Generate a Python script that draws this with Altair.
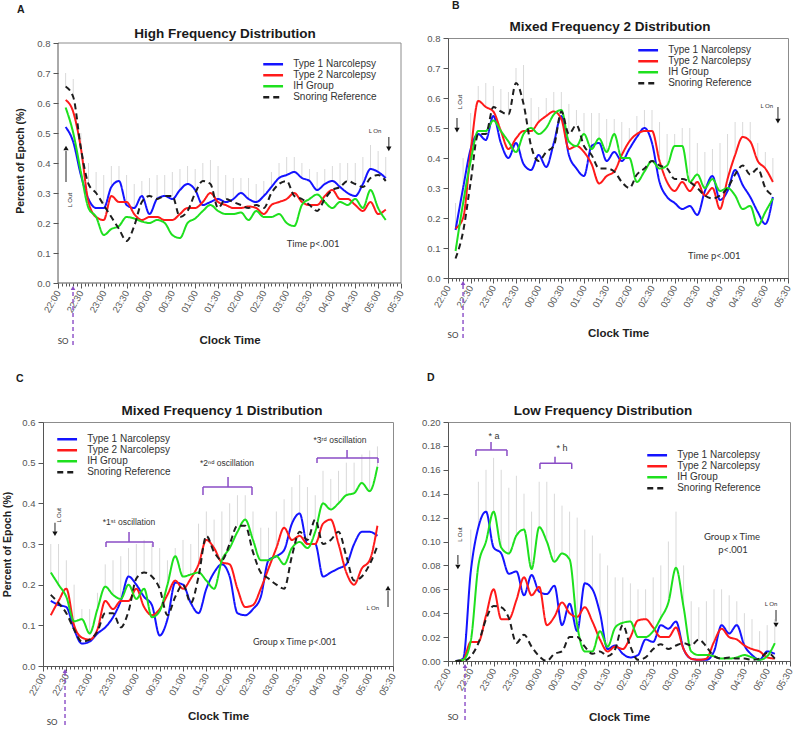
import json
import altair as alt
import pandas as pd

# ---------------- data ----------------
TIMES = [10, 20, 30, 40, 50, 60, 70, 80, 90, 100, 110, 120, 130, 140, 150,
         160, 170, 180, 190, 200, 210, 220, 230, 240, 250, 260, 270, 280, 290,
         300, 310, 320, 330, 340, 350, 360, 370, 380, 390, 400, 410, 420, 430]
TICK_LABELS = ["22:00", "22:30", "23:00", "23:30", "00:00", "00:30", "01:00",
               "01:30", "02:00", "02:30", "03:00", "03:30", "04:00", "04:30",
               "05:00", "05:30"]
SERIES = ["Type 1 Narcolepsy", "Type 2 Narcolepsy", "IH Group", "Snoring Reference"]
COLORS = ["#1414ff", "#ff1a1a", "#1ee01e", "#1e1e1e"]
DASHES = [[1, 0], [1, 0], [1, 0], [6, 4]]

Y_TICKS_AB = [0.0, 0.1, 0.2, 0.3, 0.4, 0.5, 0.6, 0.7, 0.8]
Y_TICKS_C = [0.0, 0.1, 0.2, 0.3, 0.4, 0.5, 0.6]
Y_TICKS_D = [0.0, 0.02, 0.04, 0.06, 0.08, 0.10, 0.12, 0.14, 0.16, 0.18, 0.20]
X_TICKS = list(range(0, 455, 5))

# Panel A - High Frequency
A_T1 = [0.52, 0.47, 0.36, 0.28, 0.25, 0.25, 0.32, 0.34, 0.26, 0.25,
        0.29, 0.23, 0.28, 0.29, 0.28, 0.31, 0.33, 0.31, 0.26, 0.27,
        0.28, 0.27, 0.28, 0.30, 0.28, 0.27, 0.29, 0.32, 0.35, 0.36,
        0.37, 0.35, 0.34, 0.31, 0.33, 0.34, 0.32, 0.30, 0.29, 0.33,
        0.38, 0.37, 0.35]
A_T2 = [0.61, 0.57, 0.45, 0.27, 0.22, 0.21, 0.29, 0.27, 0.27, 0.23,
        0.21, 0.22, 0.22, 0.21, 0.21, 0.23, 0.25, 0.25, 0.27, 0.30,
        0.27, 0.26, 0.25, 0.25, 0.255, 0.25, 0.23, 0.26, 0.27, 0.28,
        0.30, 0.27, 0.26, 0.26, 0.29, 0.31, 0.28, 0.28, 0.26, 0.24,
        0.27, 0.23, 0.245]
A_IH = [0.585, 0.50, 0.37, 0.25, 0.22, 0.16, 0.18, 0.19, 0.22, 0.215,
        0.205, 0.20, 0.21, 0.20, 0.16, 0.15, 0.20, 0.215, 0.24, 0.26,
        0.24, 0.23, 0.23, 0.235, 0.21, 0.24, 0.22, 0.22, 0.23, 0.20,
        0.19, 0.26, 0.28, 0.295, 0.27, 0.25, 0.27, 0.26, 0.28, 0.25,
        0.31, 0.25, 0.21]
A_SR = [0.655, 0.62, 0.45, 0.33, 0.30, 0.26, 0.22, 0.18, 0.14, 0.19,
        0.27, 0.29, 0.28, 0.29, 0.29, 0.22, 0.24, 0.30, 0.34, 0.33,
        0.25, 0.28, 0.27, 0.26, 0.25, 0.26, 0.25, 0.30, 0.33, 0.34,
        0.29, 0.28, 0.26, 0.24, 0.28, 0.31, 0.32, 0.34, 0.33, 0.32,
        0.35, 0.36, 0.34]
A_ERR = [0.70, 0.68, 0.50, 0.40, 0.37, 0.36, 0.39, 0.39, 0.36, 0.33,
         0.34, 0.35, 0.36, 0.36, 0.37, 0.38, 0.39, 0.38, 0.40, 0.41,
         0.39, 0.36, 0.35, 0.35, 0.35, 0.33, 0.34, 0.37, 0.40, 0.42,
         0.42, 0.40, 0.38, 0.37, 0.38, 0.39, 0.40, 0.40, 0.40, 0.42,
         0.46, 0.44, 0.42]

# Panel B - Mixed Frequency 2
B_T1 = [0.16, 0.30, 0.43, 0.48, 0.46, 0.54, 0.45, 0.40, 0.45, 0.38,
        0.36, 0.41, 0.37, 0.45, 0.54, 0.41, 0.365, 0.34, 0.44, 0.45,
        0.39, 0.42, 0.39, 0.43, 0.47, 0.50, 0.45, 0.32, 0.27, 0.25,
        0.23, 0.24, 0.21, 0.29, 0.34, 0.26, 0.29, 0.36, 0.31, 0.27,
        0.22, 0.18, 0.27]
B_T2 = [0.165, 0.20, 0.42, 0.59, 0.57, 0.555, 0.49, 0.43, 0.465, 0.49,
        0.49, 0.52, 0.54, 0.555, 0.53, 0.43, 0.44, 0.42, 0.38, 0.315,
        0.34, 0.355, 0.41, 0.455, 0.48, 0.49, 0.49, 0.39, 0.32, 0.29,
        0.32, 0.29, 0.32, 0.275, 0.30, 0.23, 0.33, 0.41, 0.47, 0.455,
        0.39, 0.365, 0.32]
B_IH = [0.09, 0.25, 0.39, 0.49, 0.49, 0.525, 0.49, 0.455, 0.42, 0.48,
        0.50, 0.48, 0.50, 0.545, 0.56, 0.455, 0.44, 0.48, 0.43, 0.465,
        0.42, 0.48, 0.40, 0.40, 0.32, 0.355, 0.39, 0.365, 0.375, 0.44,
        0.44, 0.32, 0.345, 0.30, 0.33, 0.29, 0.30, 0.275, 0.23, 0.24,
        0.175, 0.22, 0.265]
B_SR = [0.065, 0.155, 0.32, 0.48, 0.48, 0.57, 0.555, 0.545, 0.65, 0.58,
        0.44, 0.39, 0.42, 0.44, 0.555, 0.48, 0.51, 0.44, 0.41, 0.365,
        0.365, 0.355, 0.32, 0.30, 0.345, 0.365, 0.39, 0.375, 0.365, 0.33,
        0.33, 0.32, 0.30, 0.275, 0.265, 0.275, 0.30, 0.345, 0.375, 0.345,
        0.365, 0.30, 0.275]
B_ERR = [0.25, 0.40, 0.55, 0.64, 0.65, 0.64, 0.63, 0.62, 0.70, 0.71,
         0.60, 0.57, 0.60, 0.62, 0.62, 0.58, 0.56, 0.55, 0.55, 0.55,
         0.53, 0.53, 0.52, 0.50, 0.54, 0.56, 0.56, 0.52, 0.48, 0.48,
         0.50, 0.50, 0.45, 0.42, 0.43, 0.45, 0.48, 0.52, 0.52, 0.52,
         0.45, 0.42, 0.40]

# Panel C - Mixed Frequency 1
C_T1 = [0.16, 0.15, 0.145, 0.09, 0.055, 0.06, 0.08, 0.095, 0.12, 0.16,
        0.22, 0.20, 0.17, 0.15, 0.075, 0.115, 0.205, 0.20, 0.155, 0.13,
        0.19, 0.23, 0.25, 0.22, 0.13, 0.125, 0.14, 0.17, 0.26, 0.27,
        0.285, 0.35, 0.375, 0.30, 0.30, 0.22, 0.23, 0.24, 0.25, 0.30,
        0.33, 0.33, 0.32]
C_T2 = [0.125, 0.16, 0.19, 0.10, 0.07, 0.065, 0.09, 0.16, 0.14, 0.16,
        0.16, 0.19, 0.145, 0.125, 0.14, 0.175, 0.21, 0.19, 0.215, 0.25,
        0.31, 0.29, 0.255, 0.25, 0.19, 0.145, 0.15, 0.19, 0.24, 0.29,
        0.34, 0.31, 0.32, 0.30, 0.30, 0.35, 0.36, 0.30, 0.23, 0.20,
        0.24, 0.26, 0.345]
C_IH = [0.23, 0.20, 0.17, 0.11, 0.115, 0.08, 0.14, 0.195, 0.175, 0.165,
        0.20, 0.165, 0.19, 0.12, 0.135, 0.20, 0.27, 0.22, 0.225, 0.23,
        0.21, 0.19, 0.26, 0.29, 0.33, 0.36, 0.31, 0.26, 0.26, 0.27,
        0.25, 0.29, 0.305, 0.29, 0.33, 0.40, 0.385, 0.40, 0.42, 0.425,
        0.45, 0.43, 0.49]
C_SR = [0.175, 0.155, 0.13, 0.09, 0.06, 0.065, 0.085, 0.13, 0.13, 0.095,
        0.135, 0.215, 0.23, 0.22, 0.19, 0.125, 0.17, 0.20, 0.155, 0.22,
        0.32, 0.28, 0.26, 0.30, 0.345, 0.345, 0.28, 0.23, 0.215, 0.20,
        0.19, 0.27, 0.33, 0.31, 0.36, 0.30, 0.31, 0.33, 0.27, 0.21,
        0.22, 0.25, 0.295]
C_ERR = [0.30, 0.30, 0.26, 0.20, 0.14, 0.14, 0.18, 0.25, 0.26, 0.27,
         0.29, 0.30, 0.31, 0.30, 0.29, 0.26, 0.29, 0.31, 0.30, 0.35,
         0.38, 0.36, 0.38, 0.40, 0.42, 0.42, 0.38, 0.34, 0.34, 0.38,
         0.41, 0.44, 0.47, 0.44, 0.42, 0.48, 0.46, 0.48, 0.50, 0.50,
         0.52, 0.53, 0.54]

# Panel D - Low Frequency
D_T1 = [0.0, 0.002, 0.075, 0.112, 0.125, 0.095, 0.09, 0.073, 0.075, 0.055,
        0.072, 0.058, 0.056, 0.063, 0.03, 0.048, 0.025, 0.065, 0.06, 0.04,
        0.01, 0.013, 0.006, 0.003, 0.005, 0.018, 0.016, 0.03, 0.027, 0.033,
        0.01, 0.002, 0.001, 0.001, 0.008, 0.03, 0.023, 0.03, 0.013, 0.005,
        0.001, 0.008, 0.006]
D_T2 = [0.0, 0.001, 0.016, 0.016, 0.038, 0.06, 0.035, 0.035, 0.051, 0.07,
        0.055, 0.062, 0.03, 0.037, 0.049, 0.04, 0.037, 0.045, 0.033, 0.018,
        0.008, 0.012, 0.01, 0.02, 0.034, 0.035, 0.028, 0.02, 0.02, 0.028,
        0.01, 0.002, 0.001, 0.002, 0.016, 0.027, 0.02, 0.018, 0.013, 0.01,
        0.008, 0.003, 0.002]
D_IH = [0.0, 0.001, 0.017, 0.08, 0.10, 0.125, 0.095, 0.09, 0.105, 0.11,
        0.077, 0.112, 0.10, 0.083, 0.09, 0.085, 0.03, 0.008, 0.008, 0.025,
        0.012, 0.028, 0.032, 0.033, 0.02, 0.02, 0.025, 0.036, 0.049, 0.078,
        0.045, 0.008, 0.005, 0.005, 0.004, 0.002, 0.002, 0.003, 0.005, 0.003,
        0.001, 0.004, 0.015]
D_SR = [0.0, 0.0, 0.004, 0.015, 0.035, 0.046, 0.045, 0.036, 0.015, 0.022,
        0.012, 0.004, 0.0, 0.006, 0.008, 0.02, 0.02, 0.012, 0.006, 0.008,
        0.004, 0.01, 0.03, 0.012, 0.001, 0.003, 0.01, 0.014, 0.01, 0.013,
        0.015, 0.013, 0.018, 0.012, 0.004, 0.002, 0.003, 0.002, 0.002, 0.001,
        0.002, 0.007, 0.002]
D_ERR = [0.0, 0.005, 0.11, 0.15, 0.16, 0.17, 0.16, 0.145, 0.155, 0.14,
         0.125, 0.15, 0.15, 0.14, 0.13, 0.125, 0.12, 0.11, 0.105, 0.09,
         0.08, 0.07, 0.07, 0.065, 0.06, 0.06, 0.07, 0.08, 0.10, 0.125,
         0.08, 0.05, 0.045, 0.05, 0.06, 0.06, 0.055, 0.05, 0.04, 0.035,
         0.025, 0.03, 0.035]

# ---------------- styling ----------------
FONT = "Liberation Sans, Arial, sans-serif"
NOTE_FONT = "Lato, Open Sans, sans-serif"
SUP_FONT = "Liberation Sans, DejaVu Sans, sans-serif"
PURPLE = "#8a4cc6"
AXIS_GREY = "#555555"
FRAME_GREY = "#8c8c8c"
LABEL_EXPR = "datum.value % 30 ? '' : " + json.dumps(TICK_LABELS) + "[round(datum.value / 30)]"
TICK_SIZE = {"condition": {"test": "datum.value % 30 === 0", "value": 5}, "value": 3}
LEG_SYM_PAD = 4.15   # half symbol length minus half entry offset
LEG_CENTER = 5.75    # first entry centre below legend top


def bracket(tl, tc, tr, v_top, v_bar, v_end):
    return [(tc, v_top, tc, v_bar), (tl, v_bar, tr, v_bar),
            (tl, v_bar, tl, v_end), (tr, v_bar, tr, v_end)]


PANELS = {
    "A": dict(
        title="High Frequency Distribution", title_pos=(182, 0), letter_pos=(-26, -25),
        width=358, height=245, xmin=-19.68, ymax=0.81667, yframe=0.8,
        yticks=Y_TICKS_AB, yfmt=".1f", yoffset=-15, manual_frame=True,
        ytitle="Percent of Epoch (%)", ytitle_x=-38, xtitle_y=57, xtitle_x=186.5,
        spacer=(-43, -38), legend=(220, 26),
        series=[A_T1, A_T2, A_IH, A_SR], err=A_ERR,
        texts=[dict(t=300, v=0.13, text="Time p<.001", size=9.5, align="left"),
               dict(t=15.7, v=0.277, text="L Out", size=6, angle=270),
               dict(t=416, v=0.507, text="L On", size=6),
               dict(t=6.6, v=-0.197, text="SO", size=8)],
        shafts=[(10.5, 0.337, 10.5, 0.44), (434, 0.487, 434, 0.45)],
        heads_up=[(10.5, 0.45)], heads_down=[(434, 0.447)],
        so=(19.7, -0.207, -0.02, -0.0167), brackets=[]),
    "B": dict(
        title="Mixed Frequency 2 Distribution", title_pos=(162, -7), letter_pos=(4, -29),
        width=340, height=240, xmin=0, ymax=0.8, yframe=0.8,
        yticks=Y_TICKS_AB, yfmt=".1f", yoffset=0, manual_frame=False,
        ytitle=None, ytitle_x=0, xtitle_y=55, xtitle_x=None,
        spacer=None, legend=(190, 12),
        series=[B_T1, B_T2, B_IH, B_SR], err=B_ERR,
        texts=[dict(t=317.5, v=0.073, text="Time p<.001", size=9.5, align="left"),
               dict(t=15.9, v=0.587, text="L Out", size=6, angle=270),
               dict(t=422, v=0.573, text="L On", size=6),
               dict(t=6.6, v=-0.193, text="SO", size=8)],
        shafts=[(11.9, 0.533, 11.9, 0.5), (436.7, 0.57, 436.7, 0.53)],
        heads_up=[], heads_down=[(11.9, 0.493), (436.7, 0.523)],
        so=(19.9, -0.2, -0.02, -0.0167), brackets=[]),
    "C": dict(
        title="Mixed Frequency 1 Distribution", title_pos=(179, -7), letter_pos=(-27, -40),
        width=350, height=244, xmin=0, ymax=0.6, yframe=0.6,
        yticks=Y_TICKS_C, yfmt=".1f", yoffset=0, manual_frame=False,
        ytitle="Percent of Epoch (%)", ytitle_x=-36, xtitle_y=50, xtitle_x=None,
        spacer=None, legend=(14, 17),
        series=[C_T1, C_T2, C_IH, C_SR], err=C_ERR,
        texts=[dict(t=270, v=0.059, text="Group x Time p<.001", size=9, align="left"),
               dict(t=20.6, v=0.371, text="L Out", size=6, angle=270),
               dict(t=424, v=0.143, text="L On", size=6),
               dict(t=11.6, v=-0.14, text="SO", size=8),
               dict(t=110.6, v=0.354, text="*1\u02e2\u1d57 oscillation", size=8.5, font=SUP_FONT),
               dict(t=236.6, v=0.499, text="*2\u207f\u1d48 oscillation", size=8.5, font=SUP_FONT),
               dict(t=381.9, v=0.556, text="*3\u02b3\u1d48 oscillation", size=8.5, font=SUP_FONT)],
        shafts=[(15.4, 0.352, 15.4, 0.33), (443.6, 0.145, 443.6, 0.185)],
        heads_up=[(443.6, 0.192)], heads_down=[(15.4, 0.325)],
        so=(28.3, -0.145, -0.016, -0.0123),
        brackets=bracket(81, 110.6, 141.4, 0.3295, 0.305, 0.2926)
        + bracket(205.7, 237.9, 268.7, 0.4647, 0.4401, 0.4205)
        + bracket(352.3, 390.9, 430.7, 0.5311, 0.5114, 0.4991)),
    "D": dict(
        title="Low Frequency Distribution", title_pos=(155, -7), letter_pos=(-21, -41),
        width=342, height=239, xmin=0, ymax=0.2, yframe=0.2,
        yticks=Y_TICKS_D, yfmt=".2f", yoffset=0, manual_frame=False,
        ytitle=None, ytitle_x=0, xtitle_y=56, xtitle_x=None,
        spacer=None, legend=(199, 33),
        series=[D_T1, D_T2, D_IH, D_SR], err=D_ERR,
        texts=[dict(t=373.7, v=0.104, text="Group x Time", size=9.5),
               dict(t=375, v=0.093, text="p<.001", size=9.5),
               dict(t=15.8, v=0.106, text="L Out", size=6, angle=270),
               dict(t=425, v=0.048, text="L On", size=6),
               dict(t=6.6, v=-0.048, text="SO", size=8),
               dict(t=60.5, v=0.188, text="* a", size=9, font=FONT),
               dict(t=150, v=0.178, text="* h", size=9, font=FONT)],
        shafts=[(13, 0.0887, 13, 0.081), (431.6, 0.0427, 431.6, 0.033)],
        heads_up=[], heads_down=[(13, 0.0787), (431.6, 0.0301)],
        so=(22.4, -0.0494, -0.006, -0.0042),
        brackets=bracket(36.8, 56.6, 77.6, 0.1833, 0.1766, 0.1715)
        + bracket(121, 140.8, 162.8, 0.171, 0.1654, 0.1607)),
}


def seg_df(segs):
    return pd.DataFrame([{"t": a, "v": b, "t2": c, "v2": d} for a, b, c, d in segs])


def make_panel(key):
    p = PANELS[key]
    manual = p["manual_frame"]
    xs = alt.Scale(domain=[p["xmin"], 450], nice=False, zero=False)
    ys = alt.Scale(domain=[0, p["ymax"]], nice=False, zero=False)
    xkw = dict(values=X_TICKS, labelExpr=LABEL_EXPR, labelAngle=300,
               labelAlign="right", labelBaseline="middle", labelOverlap=False,
               labelFlush=False, labelBound=False, labelFont=FONT,
               labelFontSize=9.5, labelColor=AXIS_GREY, labelPadding=3,
               tickSize=TICK_SIZE, tickColor=AXIS_GREY, domainColor=AXIS_GREY,
               domain=not manual, grid=False, title="Clock Time", titleFont=FONT,
               titleFontSize=11.5, titleFontWeight="bold", titleColor="#222222",
               titleY=p["xtitle_y"], titleBaseline="middle")
    if p["xtitle_x"] is not None:
        xkw.update(titleX=p["xtitle_x"])
    ykw = dict(values=p["yticks"], format=p["yfmt"], labelFont=FONT, labelFontSize=9.5,
               labelColor=AXIS_GREY, labelPadding=3, tickSize=5, tickColor=AXIS_GREY,
               domainColor=AXIS_GREY, domain=not manual, grid=False, offset=p["yoffset"])
    if p["ytitle"]:
        ykw.update(title=p["ytitle"], titleFont=FONT, titleFontSize=10.5,
                   titleFontWeight="bold", titleColor="#222222",
                   titleX=p["ytitle_x"], titleBaseline="middle", titleAngle=270)
    else:
        ykw.update(title=None)
    X = alt.X("t:Q", scale=xs, axis=alt.Axis(**xkw))
    Y = alt.Y("v:Q", scale=ys, axis=alt.Axis(**ykw))

    rows = []
    for name, vals in zip(SERIES, p["series"]):
        for t, v in zip(TIMES, vals):
            rows.append({"t": t, "v": v, "series": name})
    df = pd.DataFrame(rows)

    erows = []
    for i, t in enumerate(TIMES):
        base = max(s[i] for s in p["series"])
        erows.append({"t": t, "v": base, "v2": max(base, p["err"][i])})
    edf = pd.DataFrame(erows)

    sym_left, first_center = p["legend"]
    leg = alt.Legend(orient="none", legendX=sym_left + LEG_SYM_PAD,
                     legendY=first_center - LEG_CENTER, title=None,
                     symbolType="M-2.2,0H2.2", symbolSize=81, symbolStrokeWidth=2.5,
                     labelFont=FONT, labelFontSize=10, labelColor="#333333",
                     labelOffset=14, rowPadding=0, padding=0)

    layers = []
    if p["spacer"] is not None:
        sx, sy = p["spacer"]
        layers.append(alt.Chart(alt.Data(values=[{}])).mark_rule(strokeOpacity=0, opacity=0).encode(
            x=alt.value(sx), x2=alt.value(sx), y=alt.value(sy), y2=alt.value(sy)))
    layers.append(alt.Chart(edf).mark_rule(color="#d9d9d9", strokeWidth=1).encode(
        x=X, y=Y, y2=alt.Y2("v2:Q")))
    if manual:
        yf = p["yframe"]
        layers.append(alt.Chart(seg_df([(0, yf, 450, yf), (450, 0, 450, yf)])).mark_rule(
            color=FRAME_GREY, strokeWidth=1).encode(x=X, y=Y, x2=alt.X2("t2:Q"), y2=alt.Y2("v2:Q")))
        layers.append(alt.Chart(seg_df([(0, 0, 450, 0), (0, 0, 0, yf)])).mark_rule(
            color=AXIS_GREY, strokeWidth=1).encode(x=X, y=Y, x2=alt.X2("t2:Q"), y2=alt.Y2("v2:Q")))
    layers.append(alt.Chart(df).mark_line(strokeWidth=2, interpolate="monotone").encode(
        x=X, y=Y,
        color=alt.Color("series:N", scale=alt.Scale(domain=SERIES, range=COLORS), legend=leg),
        strokeDash=alt.StrokeDash("series:N", scale=alt.Scale(domain=SERIES, range=DASHES), legend=leg)))

    layers.append(alt.Chart(seg_df(p["shafts"])).mark_rule(color="#555555", strokeWidth=1.3).encode(
        x=X, y=Y, x2=alt.X2("t2:Q"), y2=alt.Y2("v2:Q")))
    if p["heads_up"]:
        layers.append(alt.Chart(pd.DataFrame([{"t": a, "v": b} for a, b in p["heads_up"]])).mark_point(
            shape="triangle-up", filled=True, size=28, color="#111111", opacity=1).encode(x=X, y=Y))
    if p["heads_down"]:
        layers.append(alt.Chart(pd.DataFrame([{"t": a, "v": b} for a, b in p["heads_down"]])).mark_point(
            shape="triangle-down", filled=True, size=28, color="#111111", opacity=1).encode(x=X, y=Y))
    st, sv0, sv1, shead = p["so"]
    layers.append(alt.Chart(seg_df([(st, sv0, st, sv1)])).mark_rule(
        color=PURPLE, strokeWidth=1.4, strokeDash=[4, 3]).encode(
        x=X, y=Y, x2=alt.X2("t2:Q"), y2=alt.Y2("v2:Q")))
    layers.append(alt.Chart(pd.DataFrame([{"t": st, "v": shead}])).mark_point(
        shape="triangle-up", filled=True, size=22, color=PURPLE, opacity=1).encode(x=X, y=Y))
    if p["brackets"]:
        layers.append(alt.Chart(seg_df(p["brackets"])).mark_rule(color=PURPLE, strokeWidth=1.5).encode(
            x=X, y=Y, x2=alt.X2("t2:Q"), y2=alt.Y2("v2:Q")))
    for tx in p["texts"]:
        layers.append(alt.Chart(pd.DataFrame([{"t": tx["t"], "v": tx["v"], "label": tx["text"]}])).mark_text(
            fontSize=tx["size"], align=tx.get("align", "center"), angle=tx.get("angle", 0),
            font=tx.get("font", NOTE_FONT), color="#333333", baseline="middle").encode(
            x=X, y=Y, text="label:N"))
    tpx, tpy = p["title_pos"]
    layers.append(alt.Chart(alt.Data(values=[{}])).mark_text(
        text=p["title"], font=FONT, fontSize=13.5, fontWeight="bold", color="#1a1a1a",
        align="center", baseline="alphabetic").encode(x=alt.value(tpx), y=alt.value(tpy)))
    lpx, lpy = p["letter_pos"]
    layers.append(alt.Chart(alt.Data(values=[{}])).mark_text(
        text=key, font=FONT, fontSize=10.5, fontWeight="bold", color="#1a1a1a",
        align="left", baseline="alphabetic").encode(x=alt.value(lpx), y=alt.value(lpy)))

    chart = alt.layer(*layers).properties(width=p["width"], height=p["height"])
    if manual:
        chart = chart.properties(view=alt.ViewBackground(strokeOpacity=0))
    return chart


chart = alt.concat(
    make_panel("A"), make_panel("B"), make_panel("C"), make_panel("D"),
    columns=2, spacing={"row": 139, "column": 47}, bounds="flush",
).resolve_scale(color="independent", strokeDash="independent").properties(
    padding={"left": 0, "top": 0, "right": 0, "bottom": 0}, background="white"
).configure_view(stroke=FRAME_GREY, strokeWidth=1)

chart.save("out.html", embed_options={"renderer": "svg", "actions": False})
